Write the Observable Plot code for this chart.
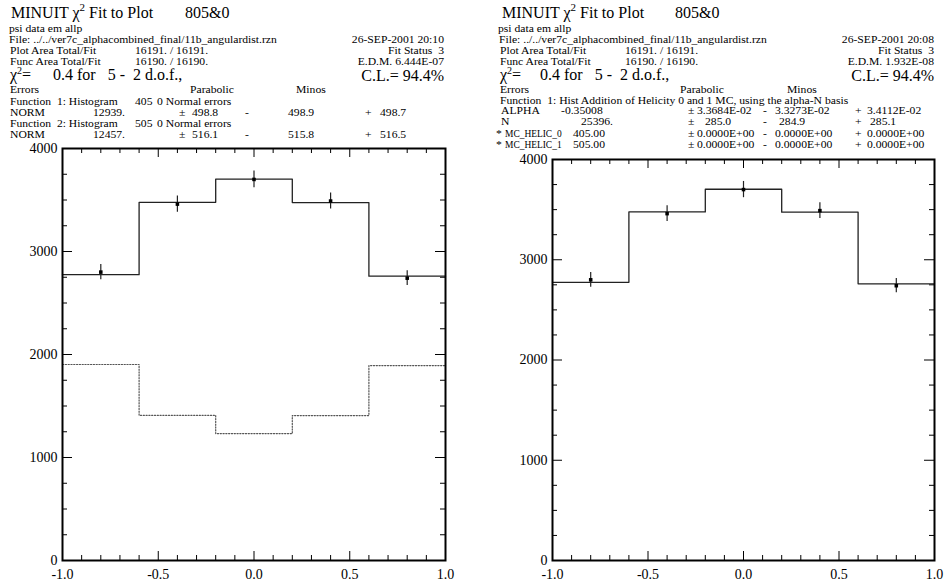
<!DOCTYPE html>
<html><head><meta charset="utf-8">
<script src="https://cdn.jsdelivr.net/npm/d3@7"></script>
<script src="https://cdn.jsdelivr.net/npm/@observablehq/plot@0.6"></script>
<style>
body{margin:0;background:#fff;}
#root{position:relative;width:946px;height:586px;overflow:hidden;font-family:"Liberation Serif",serif;}
#root > svg{position:absolute;}
</style></head><body><div id="root"></div>
<script>
// ---------- data ----------
const binEdges = [-1.0, -0.6, -0.2, 0.2, 0.6, 1.0];
const binCenters = [-0.8, -0.4, 0.0, 0.4, 0.8];
const dataCounts = [2800, 3460, 3700, 3490, 2741];
const dataErrors = [74, 78, 81, 78, 71];
const fitCounts = [2775, 3477, 3703, 3475, 2760];
const helic0Component = [1903, 1409, 1232, 1407, 1892];
const xTickLabels = [-1.0, -0.5, 0.0, 0.5, 1.0];
const yTickLabels = [0, 1000, 2000, 3000, 4000];
const yMinorTicks = [250, 500, 750, 1250, 1500, 1750, 2250, 2500, 2750, 3250, 3500, 3750];
const xMinorTicks = [-0.9, -0.8, -0.7, -0.6, -0.4, -0.3, -0.2, -0.1, 0.1, 0.2, 0.3, 0.4, 0.6, 0.7, 0.8, 0.9];

// ---------- helpers ----------
const stepPoints = vals => binEdges.map((e, i) => ({x: e, y: vals[Math.min(i, vals.length - 1)]}));
const points = binCenters.map((x, i) => ({x, y: dataCounts[i], lo: dataCounts[i] - dataErrors[i], hi: dataCounts[i] + dataErrors[i]}));

const root = document.getElementById("root");

function panel({left, top, width, height, mt, mb, ml, mr, dotted}) {
  const iw = width - ml - mr, ih = height - mt - mb;
  const yMaj = 10, yMin = 5, xMaj = 9, xMin = 5;
  const marks = [
    Plot.tickY(yTickLabels, {y: d => d, insetRight: iw - yMaj, stroke: "#000"}),
    Plot.tickY(yTickLabels, {y: d => d, insetLeft: iw - yMaj, stroke: "#000"}),
    Plot.tickY(yMinorTicks, {y: d => d, insetRight: iw - yMin, stroke: "#000"}),
    Plot.tickY(yMinorTicks, {y: d => d, insetLeft: iw - yMin, stroke: "#000"}),
    Plot.tickX(xTickLabels, {x: d => d, insetTop: ih - xMaj, stroke: "#000"}),
    Plot.tickX(xTickLabels, {x: d => d, insetBottom: ih - xMaj, stroke: "#000"}),
    Plot.tickX(xMinorTicks, {x: d => d, insetTop: ih - xMin, stroke: "#000"}),
    Plot.tickX(xMinorTicks, {x: d => d, insetBottom: ih - xMin, stroke: "#000"}),
    Plot.axisY({ticks: yTickLabels, tickSize: 0, tickPadding: 5, tickFormat: d => String(d), label: null, fontSize: 14}),
    Plot.axisX({ticks: xTickLabels, tickSize: 0, tickPadding: 9, tickFormat: d => d.toFixed(1), label: null, fontSize: 14}),
  ];
  if (dotted) marks.push(Plot.line(stepPoints(helic0Component), {x: "x", y: "y", curve: "step-after", stroke: "#555", strokeWidth: 1.2, strokeDasharray: "1.2,1.6"}));
  marks.push(
    Plot.line(stepPoints(fitCounts), {x: "x", y: "y", curve: "step-after", stroke: "#222", strokeWidth: 1.3}),
    Plot.ruleX(points, {x: "x", y1: "lo", y2: "hi", stroke: "#222", strokeWidth: 1.2}),
    Plot.dot(points, {x: "x", y: "y", symbol: "square", r: 2, fill: "#000", stroke: "none"}),
    Plot.frame({stroke: "#000", strokeWidth: 2})
  );
  const svg = Plot.plot({
    width, height, marginTop: mt, marginBottom: mb, marginLeft: ml, marginRight: mr,
    x: {domain: [-1, 1]}, y: {domain: [0, 4000]},
    style: {fontFamily: "Liberation Serif", fontSize: "14px", background: "transparent", color: "#000", overflow: "visible"},
    marks
  });
  svg.style.left = left + "px";
  svg.style.top = top + "px";
  root.appendChild(svg);
}

panel({left: 0, top: 140, width: 460, height: 446, mt: 8, mb: 26, ml: 62, mr: 15, dotted: true});
panel({left: 490, top: 140, width: 456, height: 446, mt: 19, mb: 26, ml: 62, mr: 12, dotted: false});

// ---------- header texts ----------
const S = 10.5, SX = 1.11, L = 16;
const leftHeader = [
  {y: 31.5, items: [[9, "psi data em allp"]]},
  {y: 42.5, items: [[9, "File: ../../ver7c_alphacombined_final/11b_angulardist.rzn"], [444, "26-SEP-2001 20:10", "end"]]},
  {y: 53.5, items: [[10, "Plot Area Total/Fit"], [135, "16191. / 16191."], [444, "Fit Status  3", "end"]]},
  {y: 64.5, items: [[10, "Func Area Total/Fit"], [135, "16190. / 16190."], [444, "E.D.M. 6.444E-07", "end"]]},
  {y: 93, items: [[10, "Errors"], [190, "Parabolic"], [296, "Minos"]]},
  {y: 104.5, items: [[10, "Function  1: Histogram", null, 97], [135, "405"], [157, "0 Normal errors"]]},
  {y: 115.5, items: [[10, "NORM"], [125, "12939.", "end"], [179, "±"], [192, "498.8"], [245, "-"], [288, "498.9"], [365, "+"], [380, "498.7"]]},
  {y: 126.5, items: [[10, "Function  2: Histogram", null, 97], [135, "505"], [157, "0 Normal errors"]]},
  {y: 137.5, items: [[10, "NORM"], [125, "12457.", "end"], [179, "±"], [192, "516.1"], [245, "-"], [288, "515.8"], [365, "+"], [380, "516.5"]]},
];
const rightHeader = [
  {y: 31.5, items: [[498, "psi data em allp"]]},
  {y: 42.5, items: [[499, "File: ../../ver7c_alphacombined_final/11b_angulardist.rzn"], [934, "26-SEP-2001 20:08", "end"]]},
  {y: 53.5, items: [[500, "Plot Area Total/Fit"], [625, "16191. / 16191."], [934, "Fit Status  3", "end"]]},
  {y: 64.5, items: [[500, "Func Area Total/Fit"], [625, "16190. / 16190."], [934, "E.D.M. 1.932E-08", "end"]]},
  {y: 92.5, items: [[500, "Errors"], [680, "Parabolic"], [787, "Minos"]]},
  {y: 103.5, items: [[500, "Function  1: Hist Addition of Helicity 0 and 1 MC, using the alpha-N basis"]]},
  {y: 114, items: [[501, "ALPHA"], [561, "-0.35008"], [688, "±"], [697, "3.3684E-02"], [763, "-"], [775, "3.3273E-02"], [855, "+"], [867, "3.4112E-02"]]},
  {y: 125, items: [[501, "N"], [613, "25396.", "end"], [688, "±"], [705, "285.0"], [763, "-"], [779, "284.9"], [855, "+"], [870, "285.1"]]},
  {y: 136.5, items: [[496, "*"], [505, "MC_HELIC_0", null, 51], [573, "405.00"], [688, "±"], [697, "0.0000E+00"], [763, "-"], [775, "0.0000E+00"], [855, "+"], [867, "0.0000E+00"]]},
  {y: 148, items: [[496, "*"], [505, "MC_HELIC_1", null, 51], [573, "505.00"], [688, "±"], [697, "0.0000E+00"], [763, "-"], [775, "0.0000E+00"], [855, "+"], [867, "0.0000E+00"]]},
];

const ov = d3.create("svg").attr("width", 946).attr("height", 586)
  .style("left", "0px").style("top", "0px")
  .attr("font-family", "Liberation Serif").attr("fill", "#000");

function rows(spec) {
  for (const r of spec) for (const [x, t, a, w] of r.items) {
    const el = ov.append("text").attr("transform", `translate(${x},${r.y}) scale(${SX},1)`)
      .attr("font-size", S).attr("text-anchor", a || "start").style("white-space", "pre").text(t);
    if (w) el.attr("textLength", w).attr("lengthAdjust", "spacingAndGlyphs");
  }
}
rows(leftHeader); rows(rightHeader);

function chiText(x, y, before, after, supDy = 7, supSize = 11) {
  const t = ov.append("text").attr("x", x).attr("y", y).attr("font-size", L).style("white-space", "pre");
  t.append("tspan").text(before);
  t.append("tspan").attr("dy", -supDy).attr("font-size", supSize).text("2");
  t.append("tspan").attr("dy", supDy).text(after);
}
function big(x, y, text, anchor) {
  ov.append("text").attr("x", x).attr("y", y).attr("font-size", L).attr("text-anchor", anchor || "start").style("white-space", "pre").text(text);
}
// titles
chiText(11, 18, "MINUIT χ", " Fit to Plot");
big(185, 18, "805&0");
chiText(502, 18, "MINUIT χ", " Fit to Plot");
big(675, 18, "805&0");
// chi2 rows
chiText(10, 80, "χ", "=", 6, 10);
big(53, 80, "0.4 for   5 -  2 d.o.f.,");
chiText(500, 80, "χ", "=", 6, 10);
big(540, 80, "0.4 for   5 -  2 d.o.f.,");
big(444, 81, "C.L.= 94.4%", "end");
big(934, 81, "C.L.= 94.4%", "end");

root.appendChild(ov.node());
</script></body></html>
